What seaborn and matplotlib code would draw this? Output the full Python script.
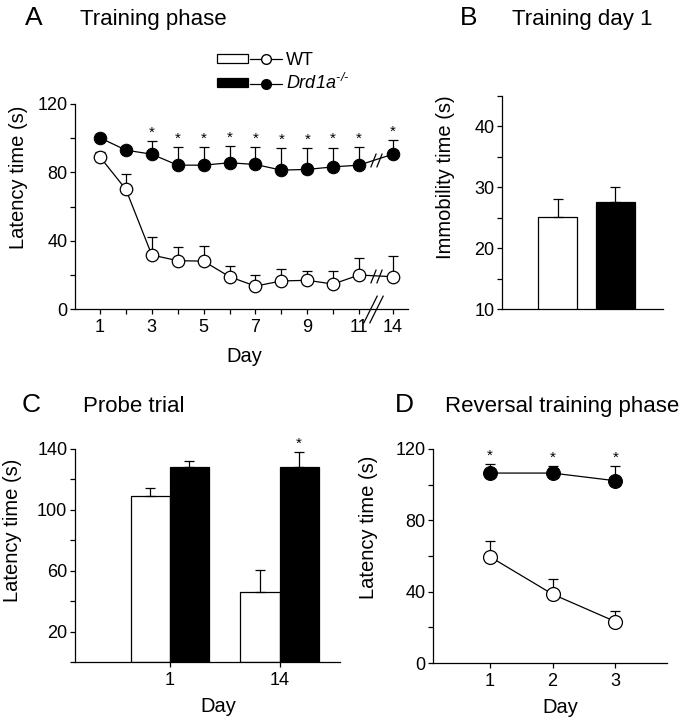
import numpy as np
import pandas as pd
import seaborn as sns
import matplotlib.pyplot as plt
from matplotlib.lines import Line2D
from matplotlib.patches import Patch
from matplotlib.legend_handler import HandlerTuple
from matplotlib.ticker import MultipleLocator

# A - training phase (latency, mean and upper SEM)
days_a = [1, 2, 3, 4, 5, 6, 7, 8, 9, 10, 11, 14]
wt_a = [89, 70, 31.6, 28.3, 28, 18.9, 13.4, 16.4, 16.8, 14.6, 19.9, 18.9]
wt_a_err = [3, 9, 10.4, 8.1, 8.8, 6.1, 6.3, 7.2, 5.6, 7.4, 9.9, 12.1]
ko_a = [100.2, 93, 90.6, 84.2, 84.2, 85.6, 84.6, 81.3, 81.7, 83.2, 84.2, 90.6]
ko_a_err = [1, 2, 7.6, 10.8, 10.8, 9.9, 10.4, 12.7, 12.3, 11.3, 10.8, 8.2]
sig_a = [3, 4, 5, 6, 7, 8, 9, 10, 11, 14]
labeled_days_a = [1, 3, 5, 7, 9, 11, 14]

# B - training day 1 immobility
geno = ['WT', 'Drd1a']
immob_b = [25.1, 27.6]
immob_b_err = [2.9, 2.4]

# C - probe trial
probe_days = ['1', '14']
wt_c = [109.2, 46]
wt_c_err = [5.3, 14.3]
ko_c = [128, 128.3]
ko_c_err = [4, 9.5]
sig_c = ['14']

# D - reversal training
days_d = [1, 2, 3]
wt_d = [59.7, 38.6, 23.2]
wt_d_err = [8.8, 8.6, 6.2]
ko_d = [106.5, 106.5, 102.2]
ko_d_err = [5.2, 4.1, 8]

sns.set_style("ticks")
plt.rcParams['font.family'] = ['Liberation Sans', 'DejaVu Sans']
plt.rcParams['mathtext.fontset'] = 'custom'
plt.rcParams['mathtext.rm'] = 'Liberation Sans:italic'
plt.rcParams['mathtext.it'] = 'Liberation Sans:italic'
for key in ['text.color', 'axes.labelcolor', 'xtick.color', 'ytick.color',
            'axes.edgecolor']:
    plt.rcParams[key] = 'black'

LW = 0.9
TICK_FS = 13
LABEL_FS = 14.5


def style_ax(ax):
    sns.despine(ax=ax)
    for s in ['left', 'bottom']:
        ax.spines[s].set_linewidth(LW)
    ax.tick_params(which='both', direction='out', length=3.5, width=LW,
                   labelsize=TICK_FS, pad=2)


def up_err(ax, x, y, e, z=1):
    ax.errorbar(x, y, yerr=[np.zeros(len(e)), e], fmt='none', ecolor='black',
                elinewidth=LW, capsize=3.5, capthick=LW, zorder=z)


def stars(ax, x, y, e):
    for xi, yi, ei in zip(x, y, e):
        ax.annotate('*', (xi, yi + ei), xytext=(0, 1), textcoords='offset points',
                    ha='center', va='bottom', fontsize=11, annotation_clip=False)


fig = plt.figure(figsize=(6.82, 7.2), dpi=100)
W, H = 682, 720


def px_axes(l, r, t, b):
    return fig.add_axes([l / W, 1 - b / H, (r - l) / W, (b - t) / H])


# ---------------- A ----------------
ax = px_axes(75, 408, 104, 309)
gap = 1.3
pos_a = [d if d <= 11 else 11 + gap for d in days_a]
up_err(ax, pos_a, wt_a, wt_a_err)
up_err(ax, pos_a, ko_a, ko_a_err)
sns.lineplot(x=pos_a, y=wt_a, color='black', marker='o', markersize=9,
             markerfacecolor='white', markeredgecolor='black', markeredgewidth=LW,
             linewidth=LW, ax=ax, zorder=2)
sns.lineplot(x=pos_a, y=ko_a, color='black', marker='o', markersize=9,
             markerfacecolor='black', markeredgecolor='black',
             linewidth=LW, ax=ax, zorder=2)
sig_idx = [days_a.index(d) for d in sig_a]
stars(ax, [pos_a[i] for i in sig_idx], [ko_a[i] for i in sig_idx],
      [ko_a_err[i] for i in sig_idx])

# axis / line breaks between day 11 and 14
slash_small = [(-0.4, -1), (0.4, 1)]
slash_big = [(-0.5, -1), (0.5, 1)]
i11, i14 = days_a.index(11), days_a.index(14)
xm = (pos_a[i11] + pos_a[i14]) / 2
for series in (wt_a, ko_a):
    ym = (series[i11] + series[i14]) / 2
    for dx in (-0.12, 0.12):
        ax.plot([xm + dx], [ym], marker=slash_small, markersize=10, color='black',
                markeredgewidth=LW, linestyle='none', zorder=3)
for dx in (-0.12, 0.12):
    ax.plot([xm - 0.12 + dx], [0], marker=slash_big, markersize=20, color='black',
            markeredgewidth=LW, linestyle='none', clip_on=False, zorder=3)

ax.set_xlim(0.035, 12.89)
ax.set_ylim(0, 120)
ax.set_xticks(pos_a)
ax.set_xticklabels([str(d) if d in labeled_days_a else '' for d in days_a])
ax.set_yticks([0, 40, 80, 120])
ax.yaxis.set_minor_locator(MultipleLocator(20))
style_ax(ax)
ax.tick_params(axis='x', pad=4)
ax.set_ylabel('Latency time (s)', fontsize=LABEL_FS)
ax.set_xlabel('Day', fontsize=LABEL_FS, va='top')
ax.yaxis.set_label_coords(-0.141, 0.64)
ax.xaxis.set_label_coords(0.507, -0.184)

handles = [
    (Patch(facecolor='white', edgecolor='black', linewidth=LW),
     Line2D([], [], color='black', marker='o', markerfacecolor='white',
            markersize=7, linewidth=LW)),
    (Patch(facecolor='black', edgecolor='black', linewidth=LW),
     Line2D([], [], color='black', marker='o', markerfacecolor='black',
            markersize=7, linewidth=LW)),
]
ax.legend(handles, ['WT', r'$\mathit{Drd1a}^{\text{-/-}}$'],
          handler_map={tuple: HandlerTuple(ndivide=None, pad=0.15)},
          loc='upper left', bbox_to_anchor=(0.425, 1.255), frameon=False,
          fontsize=13, handlelength=3.6, handleheight=0.4, labelspacing=0.25,
          handletextpad=0.25, borderpad=0, borderaxespad=0)

# ---------------- B ----------------
ax = px_axes(502, 663, 96, 309)
sns.barplot(x=geno, y=immob_b, hue=geno, palette=['white', 'black'],
            edgecolor='black', linewidth=LW, width=0.68, legend=False, ax=ax)
bars = sorted(ax.patches, key=lambda p: p.get_x())
up_err(ax, [b.get_x() + b.get_width() / 2 for b in bars], immob_b, immob_b_err, z=3)
ax.set_xlim(-0.97, 1.83)
ax.set_ylim(10, 45)
ax.set_yticks([10, 20, 30, 40])
ax.yaxis.set_minor_locator(MultipleLocator(5))
style_ax(ax)
ax.set_xticks([])
ax.set_ylabel('Immobility time (s)', fontsize=LABEL_FS)
ax.set_xlabel('')
ax.yaxis.set_label_coords(-0.29, 0.618)

# ---------------- C ----------------
ax = px_axes(75, 340, 449, 662)
df_c = pd.DataFrame({
    'day': probe_days * 2,
    'latency': wt_c + ko_c,
    'genotype': ['WT'] * len(probe_days) + ['Drd1a'] * len(probe_days),
})
sns.barplot(data=df_c, x='day', y='latency', hue='genotype', hue_order=geno,
            palette={'WT': 'white', 'Drd1a': 'black'}, edgecolor='black',
            linewidth=LW, width=0.71, errorbar=None, legend=False, ax=ax)
for cont, vals, errs in zip(ax.containers, (wt_c, ko_c), (wt_c_err, ko_c_err)):
    xs = [b.get_x() + b.get_width() / 2 for b in cont]
    up_err(ax, xs, vals, errs, z=3)
    if vals is ko_c:
        si = [probe_days.index(d) for d in sig_c]
        stars(ax, [xs[i] for i in si], [vals[i] for i in si], [errs[i] for i in si])
ax.set_xlim(-0.86, 1.55)
ax.set_ylim(0, 140)
ax.set_yticks([20, 60, 100, 140])
ax.yaxis.set_minor_locator(MultipleLocator(20))
style_ax(ax)
ax.tick_params(axis='x', pad=4)
ax.set_ylabel('Latency time (s)', fontsize=LABEL_FS)
ax.set_xlabel('Day', fontsize=LABEL_FS, va='top')
ax.yaxis.set_label_coords(-0.2, 0.616)
ax.xaxis.set_label_coords(0.54, -0.163)

# ---------------- D ----------------
ax = px_axes(433, 667, 449, 663)
up_err(ax, days_d, wt_d, wt_d_err)
up_err(ax, days_d, ko_d, ko_d_err)
sns.lineplot(x=days_d, y=wt_d, color='black', marker='o', markersize=10,
             markerfacecolor='white', markeredgecolor='black', markeredgewidth=LW,
             linewidth=LW, ax=ax, zorder=2)
sns.lineplot(x=days_d, y=ko_d, color='black', marker='o', markersize=10,
             markerfacecolor='black', markeredgecolor='black',
             linewidth=LW, ax=ax, zorder=2)
stars(ax, days_d, ko_d, ko_d_err)
ax.set_xlim(0.1, 3.82)
ax.set_ylim(0, 120)
ax.set_xticks(days_d)
ax.set_yticks([0, 40, 80, 120])
ax.yaxis.set_minor_locator(MultipleLocator(20))
style_ax(ax)
ax.tick_params(axis='x', pad=4)
ax.set_ylabel('Latency time (s)', fontsize=LABEL_FS)
ax.set_xlabel('Day', fontsize=LABEL_FS, va='top')
ax.yaxis.set_label_coords(-0.235, 0.634)
ax.xaxis.set_label_coords(0.543, -0.164)

# panel letters and titles
for lx, tx, by, letter, title in [
    (25, 80, 25, 'A', 'Training phase'),
    (460, 512, 25, 'B', 'Training day 1'),
    (22, 83, 412, 'C', 'Probe trial'),
    (395, 445, 412, 'D', 'Reversal training phase'),
]:
    fig.text(lx / W, 1 - by / H, letter, fontsize=19, va='baseline', ha='left')
    fig.text(tx / W, 1 - by / H, title, fontsize=16, va='baseline', ha='left')

fig.savefig('out.png', dpi=100)
